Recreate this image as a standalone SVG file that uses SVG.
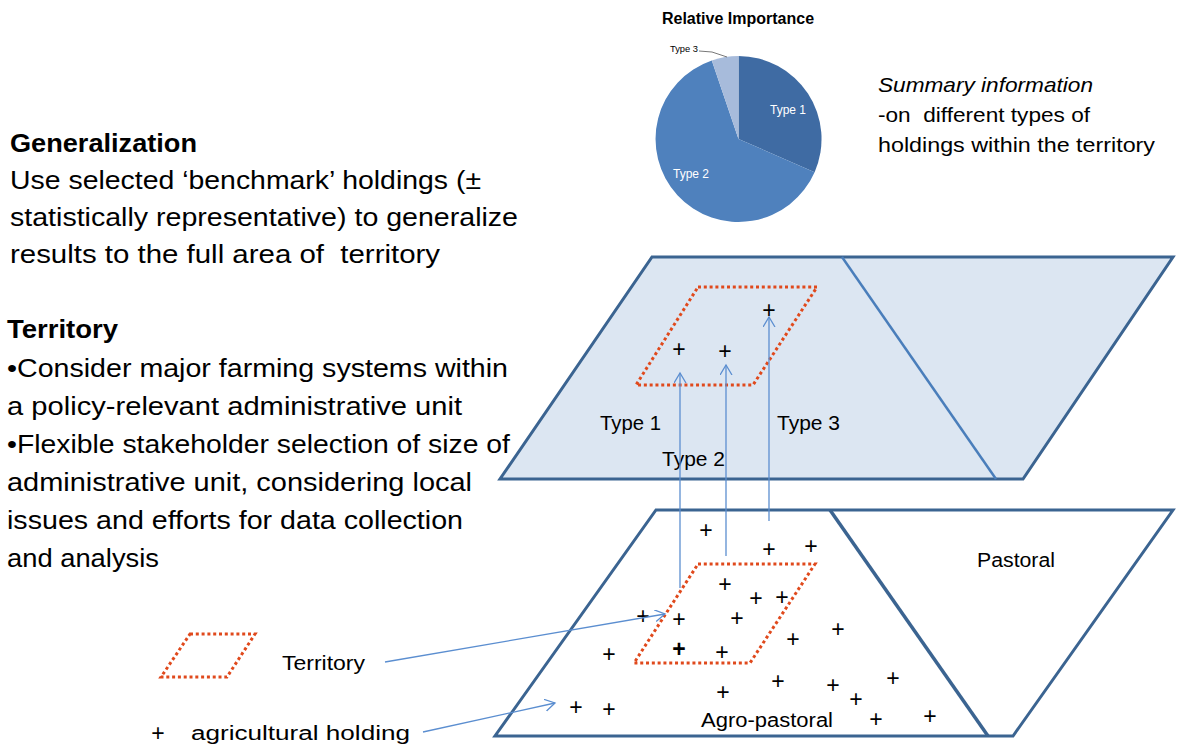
<svg xmlns="http://www.w3.org/2000/svg" width="1180" height="747" viewBox="0 0 1180 747">
  <style>
    text { font-family: "Liberation Sans", Arial, sans-serif; fill: #000; }
    .body { font-size: 26px; }
    .head { font-size: 26px; font-weight: bold; }
    .label { font-size: 20px; }
    .summary { font-size: 21px; }
    .hold { font-size: 23px; text-anchor: middle; }
    .plane-edge { stroke: #3b6491; stroke-width: 3; stroke-linejoin: miter; }
    .territory { fill: none; stroke: #e0491c; stroke-width: 3; stroke-dasharray: 3 2.8; }
    .conn { fill: none; stroke: #5b8ed0; stroke-width: 1.3; }
    .pie-label { font-size: 12px; fill: #fff; }
  </style>
  <defs>
    <marker id="openArrow" markerUnits="userSpaceOnUse" markerWidth="12" markerHeight="14" refX="10" refY="6" orient="auto">
      <path d="M0,0 L10,6 L0,12" fill="none" stroke="#5b8ed0" stroke-width="1.3"/>
    </marker>
  </defs>

  <rect width="1180" height="747" fill="#fff"/>

  <!-- Relative importance pie -->
  <g id="pie-chart">
    <text x="738" y="24" font-size="16" font-weight="bold" text-anchor="middle">Relative Importance</text>
    <path d="M738.5,139 L738.5,56 A83,83 0 0,1 814.6,172.2 Z" fill="#3f6ba3"/>
    <path d="M738.5,139 L814.6,172.2 A83,83 0 1,1 711.8,60.4 Z" fill="#4f81bd"/>
    <path d="M738.5,139 L711.8,60.4 A83,83 0 0,1 738.5,56 Z" fill="#a7bbdb"/>
    <text class="pie-label" x="770" y="114">Type 1</text>
    <text class="pie-label" x="673" y="178">Type 2</text>
    <text x="670" y="52" font-size="9" fill="#333" textLength="28" lengthAdjust="spacingAndGlyphs">Type 3</text>
    <path d="M699,51 L712,52 L727,57" fill="none" stroke="#555" stroke-width="0.8"/>
  </g>

  <!-- Summary note -->
  <g id="summary-text">
    <text class="summary" x="878" y="92" font-style="italic" textLength="215" lengthAdjust="spacingAndGlyphs">Summary information</text>
    <text class="summary" x="878" y="122" xml:space="preserve" textLength="212" lengthAdjust="spacingAndGlyphs">-on  different types of</text>
    <text class="summary" x="878" y="152" textLength="277" lengthAdjust="spacingAndGlyphs">holdings within the territory</text>
  </g>

  <!-- Generalization block -->
  <g id="generalization-text">
    <text class="head" x="10" y="152" textLength="187" lengthAdjust="spacingAndGlyphs">Generalization</text>
    <text class="body" x="10" y="189" textLength="471" lengthAdjust="spacingAndGlyphs">Use selected ‘benchmark’ holdings (±</text>
    <text class="body" x="10" y="226" textLength="508" lengthAdjust="spacingAndGlyphs">statistically representative) to generalize</text>
    <text class="body" x="10" y="263" xml:space="preserve" textLength="430" lengthAdjust="spacingAndGlyphs">results to the full area of  territory</text>
  </g>

  <!-- Territory block -->
  <g id="territory-text">
    <text class="head" x="7" y="338" textLength="111" lengthAdjust="spacingAndGlyphs">Territory</text>
    <text class="body" x="7" y="377" textLength="501" lengthAdjust="spacingAndGlyphs">•Consider major farming systems within</text>
    <text class="body" x="7" y="415" textLength="455" lengthAdjust="spacingAndGlyphs">a policy-relevant administrative unit</text>
    <text class="body" x="7" y="453" textLength="503" lengthAdjust="spacingAndGlyphs">•Flexible stakeholder selection of size of</text>
    <text class="body" x="7" y="491" textLength="465" lengthAdjust="spacingAndGlyphs">administrative unit, considering local</text>
    <text class="body" x="7" y="529" textLength="456" lengthAdjust="spacingAndGlyphs">issues and efforts for data collection</text>
    <text class="body" x="7" y="567" textLength="152" lengthAdjust="spacingAndGlyphs">and analysis</text>
  </g>

  <!-- Upper plane: generalized territory -->
  <g id="upper-plane">
    <polygon class="plane-edge" points="652,257 1173,257 1023,479 500,479" fill="#dce6f2"/>
    <line x1="842" y1="257" x2="996" y2="479" stroke="#4a7ebb" stroke-width="2.5"/>
    <polygon class="territory" points="698,287 817,287 753,385 636,385"/>
    <text class="hold" x="679" y="357">+</text>
    <text class="hold" x="725" y="359">+</text>
    <text class="hold" x="769" y="318">+</text>
    <text class="label" x="600" y="430" textLength="61" lengthAdjust="spacingAndGlyphs">Type 1</text>
    <text class="label" x="662" y="466" textLength="63" lengthAdjust="spacingAndGlyphs">Type 2</text>
    <text class="label" x="777" y="430" textLength="63" lengthAdjust="spacingAndGlyphs">Type 3</text>
  </g>

  <!-- Lower plane: farming systems with holdings -->
  <g id="lower-plane">
    <polygon class="plane-edge" points="656,510 1173,510 1013,736 495,736" fill="#fff" stroke-width="3.5"/>
    <line x1="830" y1="510" x2="988" y2="736" stroke="#3b6491" stroke-width="3.5"/>
    <polygon class="territory" points="698,564 815,564 750,663 634,663"/>
    <text class="label" x="977" y="567" textLength="78" lengthAdjust="spacingAndGlyphs">Pastoral</text>
    <text class="label" x="701" y="727" textLength="132" lengthAdjust="spacingAndGlyphs">Agro-pastoral</text>
    <g id="holdings">
      <text class="hold" x="706" y="538">+</text>
      <text class="hold" x="769" y="557">+</text>
      <text class="hold" x="811" y="554">+</text>
      <text class="hold" x="725" y="592">+</text>
      <text class="hold" x="756" y="606">+</text>
      <text class="hold" x="782" y="605">+</text>
      <text class="hold" x="643" y="624">+</text>
      <text class="hold" x="679" y="627">+</text>
      <text class="hold" x="737" y="626">+</text>
      <text class="hold" x="838" y="637">+</text>
      <text class="hold" x="793" y="647">+</text>
      <text class="hold" x="609" y="662">+</text>
      <text class="hold" x="679" y="657" font-weight="bold">+</text>
      <text class="hold" x="722" y="660">+</text>
      <text class="hold" x="778" y="689">+</text>
      <text class="hold" x="893" y="686">+</text>
      <text class="hold" x="723" y="700">+</text>
      <text class="hold" x="833" y="693">+</text>
      <text class="hold" x="856" y="707">+</text>
      <text class="hold" x="576" y="715">+</text>
      <text class="hold" x="609" y="717">+</text>
      <text class="hold" x="876" y="727">+</text>
      <text class="hold" x="930" y="724">+</text>
    </g>
  </g>

  <!-- Legend -->
  <g id="legend-territory">
    <polygon class="territory" points="190,634 255,634 227,677 161,677"/>
    <text class="label" x="282" y="670" textLength="83" lengthAdjust="spacingAndGlyphs">Territory</text>
  </g>
  <g id="legend-holding">
    <text class="hold" x="158" y="741" font-size="20">+</text>
    <text class="label" x="191" y="740" textLength="219" lengthAdjust="spacingAndGlyphs">agricultural holding</text>
  </g>

  <!-- Connectors -->
  <g id="connectors">
    <line class="conn" x1="680" y1="588" x2="680" y2="373" marker-end="url(#openArrow)"/>
    <line class="conn" x1="726" y1="556" x2="726" y2="365" marker-end="url(#openArrow)"/>
    <line class="conn" x1="769" y1="521" x2="769" y2="317" marker-end="url(#openArrow)"/>
    <line class="conn" x1="385" y1="662" x2="665" y2="614" marker-end="url(#openArrow)"/>
    <line class="conn" x1="423" y1="732" x2="555" y2="703" marker-end="url(#openArrow)"/>
  </g>
</svg>
